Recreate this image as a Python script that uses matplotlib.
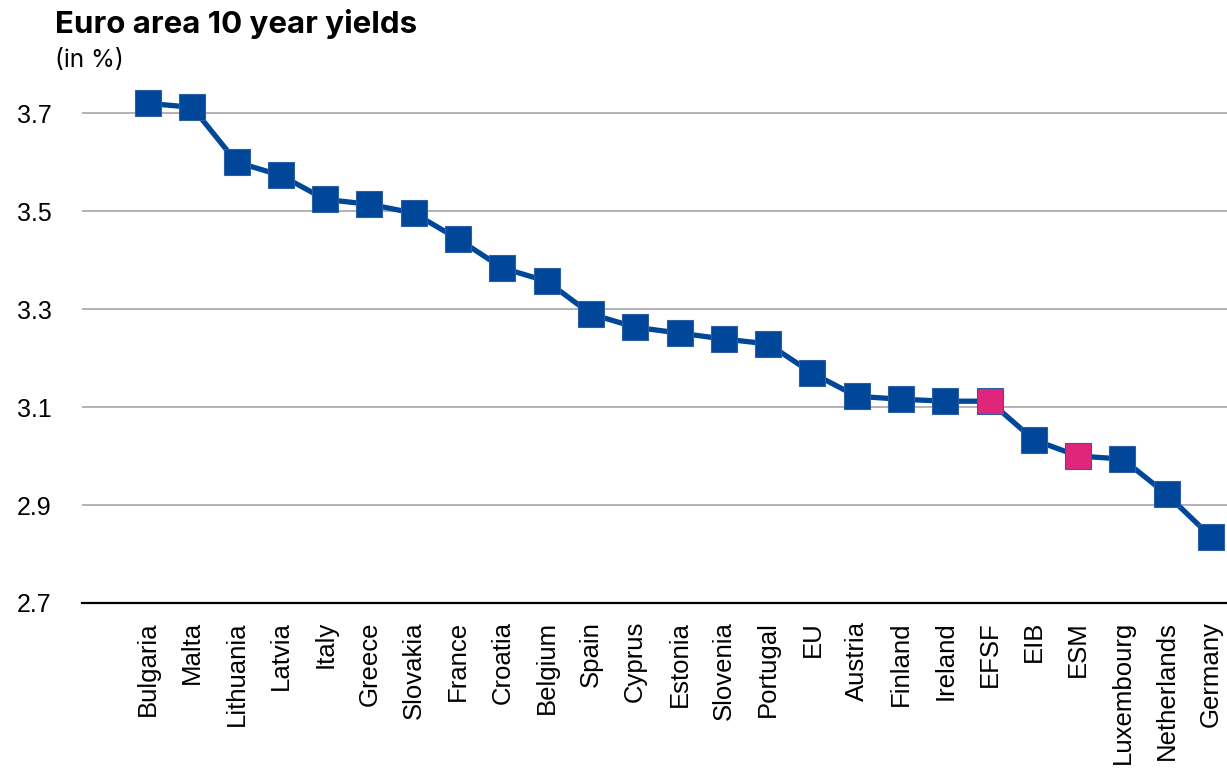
import matplotlib.pyplot as plt
import matplotlib as mtpl

countries = ['Bulgaria', 'Malta', 'Lithuania', 'Latvia', 'Italy', 'Greece', 'Slovakia',
             'France', 'Croatia', 'Belgium', 'Spain', 'Cyprus', 'Estonia', 'Slovenia',
             'Portugal', 'EU', 'Austria', 'Finland', 'Ireland', 'EFSF', 'EIB', 'ESM',
             'Luxembourg', 'Netherlands', 'Germany']
yields = [3.720, 3.712, 3.600, 3.573, 3.524, 3.514, 3.496,
          3.443, 3.384, 3.357, 3.290, 3.263, 3.251, 3.239,
          3.229, 3.169, 3.122, 3.116, 3.112, 3.112, 3.033, 3.000,
          2.994, 2.922, 2.835]
highlight = ['EFSF', 'ESM']
yticks = [2.7, 2.9, 3.1, 3.3, 3.5, 3.7]

blue = '#00479a'
pink = '#e0267a'

mtpl.rcParams['font.family'] = ['Liberation Sans', 'DejaVu Sans']

fig = plt.figure(figsize=(12.27, 7.76), dpi=100)
ax = fig.add_axes([82 / 1227, 1 - 603 / 776, 1 - 82 / 1227, (603 - 74) / 776])

x = list(range(len(countries)))
ax.plot(x, yields, color=blue, linewidth=3.8, zorder=3, clip_on=False)
for i, (c, v) in enumerate(zip(countries, yields)):
    face = pink if c in highlight else blue
    ax.plot(i, v, marker='s', markersize=18.5, markerfacecolor=face,
            markeredgecolor='#2c5ea6', markeredgewidth=0.8, zorder=4, clip_on=False)

ax.set_ylim(2.7, 3.78)
ax.set_xlim(-1.49, 24.36)
ax.set_yticks(yticks)
ax.set_yticklabels([f'{t:.1f}' for t in yticks], fontsize=18)
ax.yaxis.grid(True, color='#a6a6a6', linewidth=1.2)
ax.set_axisbelow(True)
ax.set_xticks(x)
ax.set_xticklabels(countries, rotation=90, fontsize=18.5, va='top', ha='center')
ax.tick_params(axis='both', length=0)
ax.tick_params(axis='y', pad=22)
ax.tick_params(axis='x', pad=13)

for s in ['top', 'right', 'left']:
    ax.spines[s].set_visible(False)
ax.spines['bottom'].set_color('black')
ax.spines['bottom'].set_linewidth(1.6)
ax.spines['bottom'].set_zorder(5)

fig.text(55 / 1227, 1 - 33 / 776, 'Euro area 10 year yields', fontsize=22.5,
         fontweight='bold', family=['Inter', 'DejaVu Sans'], va='baseline')
fig.text(55 / 1227, 1 - 67 / 776, '(in %)', fontsize=17.5,
         family=['Inter', 'DejaVu Sans'], va='baseline')

plt.savefig('out.png', dpi=100)
